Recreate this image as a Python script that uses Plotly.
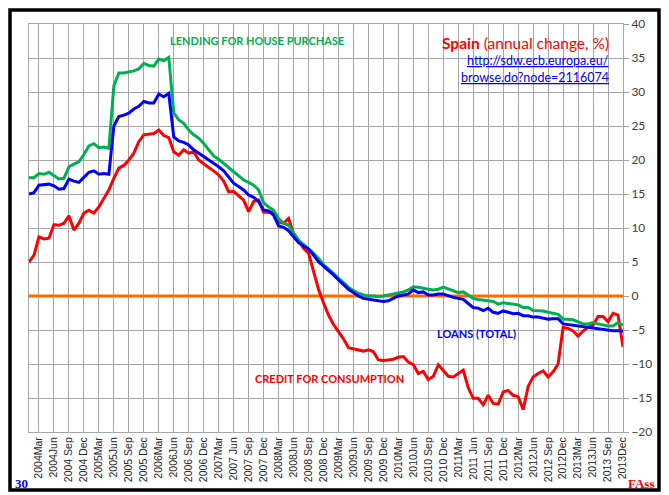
import plotly.graph_objects as go

months = list(range(120))  # Jan 2004 .. Dec 2013 (month index)

credit_consumption = [
    5.0, 6.0, 8.7, 8.4, 8.5, 10.5, 10.4, 10.7, 11.8, 9.7, 10.7, 12.2,
    12.6, 12.2, 13.1, 14.3, 15.6, 17.3, 18.8, 19.2, 20.0, 21.0, 22.7, 23.7,
    23.8, 23.9, 24.4, 23.6, 23.3, 21.2, 20.7, 21.5, 21.0, 21.2, 20.0, 19.4,
    18.9, 18.4, 17.8, 16.9, 15.3, 15.4, 14.7, 14.1, 12.4, 13.9, 14.1, 12.3,
    12.3, 12.4, 10.9, 10.7, 11.4, 9.2, 8.2, 7.0, 6.3, 3.5, 1.0, -1.0,
    -2.8, -4.2, -5.3, -6.3, -7.6, -7.8, -8.0, -8.1, -7.9, -8.2, -9.4, -9.5,
    -9.4, -9.3, -9.0, -8.9, -9.7, -10.1, -11.4, -11.1, -12.3, -11.8, -10.1, -10.9,
    -11.8, -11.9, -11.4, -10.9, -13.5, -15.05, -15.05, -16.0, -14.6, -15.8, -15.9, -14.1,
    -13.9, -14.6, -14.8, -16.7, -13.3, -11.9, -11.4, -11.0, -11.9, -11.15, -10.0, -4.6,
    -4.75, -5.15, -5.9, -5.15, -4.6, -4.3, -3.0, -3.0, -3.8, -2.55, -2.8, -7.45,
]

loans_total = [
    15.0, 15.2, 16.3, 16.4, 16.45, 16.2, 15.7, 15.8, 17.2, 16.9, 16.7, 17.45,
    18.2, 18.4, 17.9, 18.0, 17.9, 25.0, 26.4, 26.6, 26.9, 27.5, 27.9, 28.6,
    28.4, 28.4, 29.7, 29.3, 29.8, 23.4, 22.8, 22.6, 22.2, 21.5, 21.0, 20.6,
    20.0, 19.5, 19.0, 18.4, 17.5, 16.6, 16.1, 15.6, 14.85, 14.5, 13.9, 12.65,
    12.5, 11.9, 10.3, 10.1, 9.6, 8.7, 7.85, 7.35, 6.9, 6.0, 5.05, 4.4,
    3.8, 3.1, 2.35, 1.6, 1.0, 0.5, 0.0, -0.35, -0.5, -0.6, -0.7, -0.8,
    -0.7, -0.35, 0.0, 0.15, 0.3, 0.9, 0.5, 0.6, 0.15, 0.15, 0.3, 0.3,
    0.0, -0.2, -0.35, -0.5, -1.1, -1.7, -1.8, -2.15, -1.8, -2.4, -2.55, -2.2,
    -2.4, -2.6, -2.55, -2.9, -2.9, -3.1, -3.1, -3.25, -3.4, -3.35, -3.35, -4.1,
    -4.2, -4.3, -4.4, -4.5, -4.6, -4.75, -4.85, -4.9, -5.0, -5.1, -5.1, -5.15,
]

house_purchase = [
    17.4, 17.4, 18.0, 17.9, 18.2, 17.7, 17.2, 17.3, 19.0, 19.4, 19.75, 20.8,
    22.06, 22.4, 21.8, 21.9, 21.7, 30.9, 32.8, 32.8, 32.9, 33.1, 33.4, 34.2,
    33.9, 33.8, 34.85, 34.6, 35.1, 26.95, 25.9, 25.4, 24.4, 23.7, 23.2, 22.45,
    21.5, 20.6, 20.1, 19.5, 18.9, 18.3, 17.8, 17.06, 16.7, 16.3, 15.6, 13.7,
    13.1, 12.65, 11.4, 10.7, 10.4, 9.2, 8.2, 7.6, 7.0, 6.3, 5.5, 4.6,
    4.0, 3.3, 2.6, 1.9, 1.3, 0.78, 0.4, 0.15, 0.0, 0.0, -0.1, 0.0,
    0.15, 0.4, 0.5, 0.6, 0.88, 1.37, 1.3, 1.1, 1.0, 0.9, 1.0, 1.3,
    1.0, 0.78, 0.5, 0.6, 0.15, -0.35, -0.5, -0.6, -0.6, -0.8, -1.2, -1.0,
    -1.1, -1.2, -1.3, -1.7, -1.7, -2.15, -2.2, -2.2, -2.4, -2.55, -2.7, -3.4,
    -3.5, -3.5, -3.8, -4.1, -4.1, -3.9, -4.1, -4.3, -4.4, -4.4, -3.9, -4.3,
]

zero_line = [0, 0]

tick_months = list(range(2, 120, 3))
tick_labels = [
    "2004Mar", "2004Jun", "2004 Sep", "2004 Dec",
    "2005Mar", "2005Jun", "2005 Sep", "2005 Dec",
    "2006Mar", "2006Jun", "2006 Sep", "2006 Dec",
    "2007Mar", "2007 Jun", "2007 Sep", "2007 Dec",
    "2008Mar", "2008Jun", "2008 Sep", "2008 Dec",
    "2009Mar", "2009Jun", "2009 Sep", "2009 Dec",
    "2010Mar", "2010Jun", "2010 Sep", "2010 Dec",
    "2011Mar", "2011 Jun", "2011 Sep", "2011 Dec",
    "2012Mar", "2012Jun", "2012 Sep", "2012Dec",
    "2013Mar", "2013Jun", "2013 Sep", "2013Dec",
]
y_ticks = list(range(-20, 45, 5))

# the page body adds an 8px margin; lay the figure out in page pixels
OFF = 8
W, H = 669 - OFF, 495 - OFF
PL, PR, PT, PB = 29, 623, 24, 432      # plot area in page pixels
L, T = PL - OFF, PT - OFF
R, B = W - (PR - OFF), H - (PB - OFF)
pw, ph = PR - PL, PB - PT

def px(x):
    return (x - PL) / pw

def py(y):
    return (PB - y) / ph

fig = go.Figure()
fig.add_trace(go.Scatter(x=[months[0], months[-1]], y=zero_line, mode="lines",
                         line=dict(color="#ff6a00", width=3), hoverinfo="skip"))
fig.add_trace(go.Scatter(x=months, y=credit_consumption, mode="lines",
                         line=dict(color="#ff0000", width=3)))
fig.add_trace(go.Scatter(x=months, y=house_purchase, mode="lines",
                         line=dict(color="#00b050", width=3)))
fig.add_trace(go.Scatter(x=months, y=loans_total, mode="lines",
                         line=dict(color="#0000ff", width=3)))

grid = "#a6a6a6"
fig.update_layout(
    width=W, height=H,
    margin=dict(l=L, r=R, t=T, b=B, autoexpand=False),
    paper_bgcolor="white", plot_bgcolor="white",
    showlegend=False,
    xaxis=dict(range=[0, 119], tickmode="array", tickvals=tick_months, ticktext=tick_labels,
               tickangle=-90, showgrid=True, gridcolor=grid, gridwidth=1,
               showline=True, linecolor=grid, mirror=True, zeroline=False,
               ticks="", automargin=False,
               tickfont=dict(family="Liberation Sans, Arial", size=10.5, color="#262626")),
    yaxis=dict(range=[-20, 40], side="right", tickmode="array", tickvals=y_ticks,
               showgrid=True, gridcolor=grid, gridwidth=1, zeroline=False,
               showline=True, linecolor=grid, mirror=True, automargin=False,
               ticks="outside", ticklen=5, tickcolor=grid,
               tickfont=dict(family="Lato, Carlito, sans-serif", size=12, color="#404040")),
    font=dict(family="Lato, sans-serif"),
)

# frame around the whole picture
fig.add_shape(type="rect", xref="paper", yref="paper",
              x0=px(10), x1=px(659), y0=py(490), y1=py(10),
              line=dict(color="black", width=3.5), fillcolor="rgba(0,0,0,0)")

# white boxes (behind the lines, above the grid)
def white_box(x0, x1, y0, y1):
    fig.add_shape(type="rect", xref="paper", yref="paper", layer="below",
                  x0=px(x0), x1=px(x1), y0=py(y1), y1=py(y0),
                  line=dict(width=0), fillcolor="white")

white_box(158, 345, 28, 54)     # lending label
white_box(432, 616, 32, 88)     # title block
white_box(428, 522, 322, 345)   # loans label
white_box(248, 408, 367, 390)   # credit label

def label(x, y, text, size, color, family="Lato", xanchor="center"):
    fig.add_annotation(xref="paper", yref="paper", x=px(x), y=py(y),
                       xanchor=xanchor, yanchor="middle", text=text, showarrow=False,
                       font=dict(family=family, size=size, color=color))

label(257, 41, "<b>LENDING FOR HOUSE PURCHASE</b>", 11, "#00b050")
label(611, 43, "<b>Spain</b> (annual change, %)", 15.5, "#ff0000", xanchor="right")
label(611, 60, "<u>http://sdw.ecb.europa.eu/</u>", 12.5, "#0000ff", xanchor="right")
label(611, 77, "<u>browse.do?node=2116074</u>", 12.5, "#0000ff", xanchor="right")
label(476, 333, "<b>LOANS (TOTAL)</b>", 11, "#0000ff")
label(329, 378, "<b>CREDIT FOR CONSUMPTION</b>", 11, "#ff0000")
label(21, 483, "<b>30</b>", 13, "#0000ff", family="Liberation Serif, Times New Roman")
label(641, 483, "<b>FAss</b>", 13, "#ff0000", family="Liberation Serif, Times New Roman")

fig.write_html("out.html")
